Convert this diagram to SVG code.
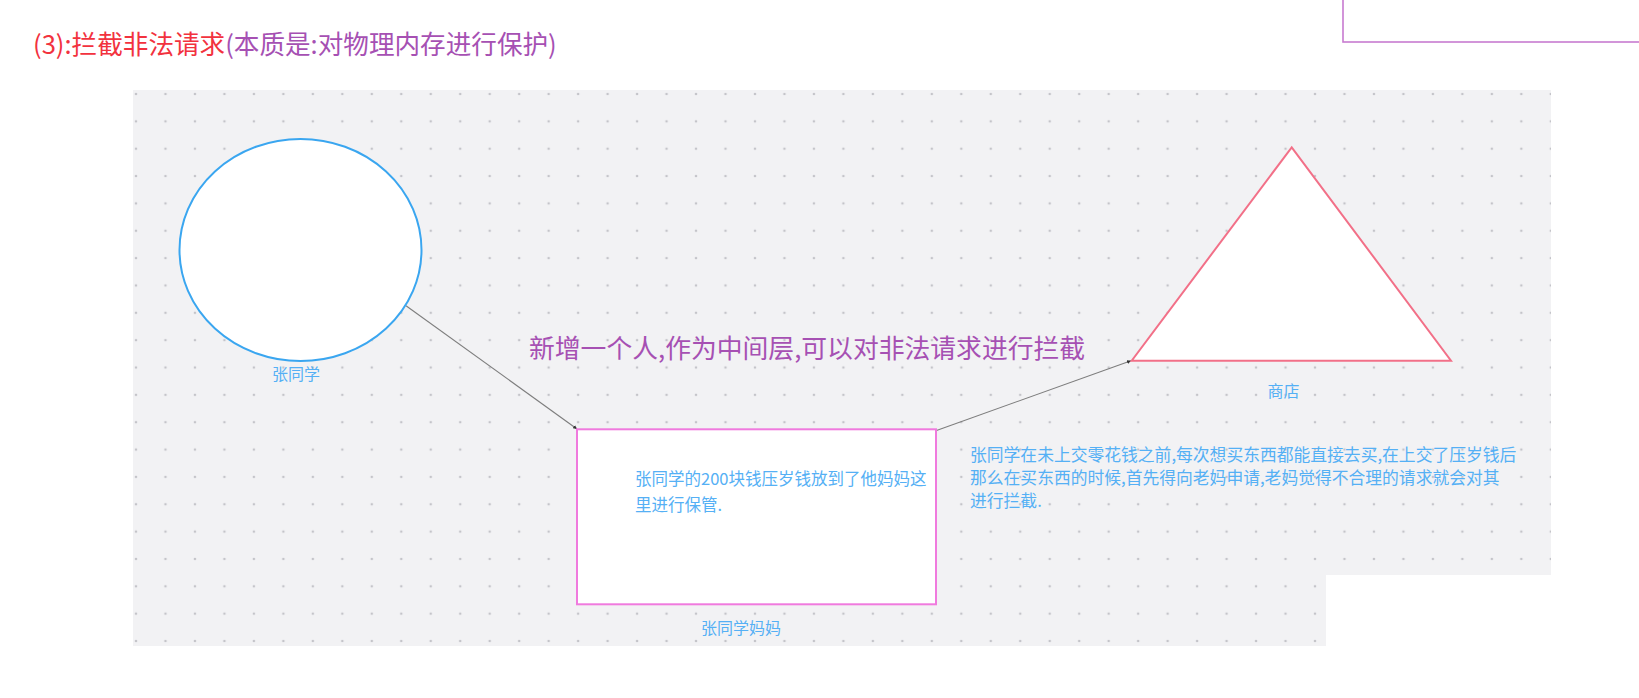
<svg xmlns="http://www.w3.org/2000/svg" width="1639" height="698" viewBox="0 0 1639 698">
  <style>
    text { font-family: "Noto Sans CJK SC", "Noto Sans", sans-serif; }
    .lbl { fill: #55b0f5; font-size: 16px; }
    .note { fill: #55b0f5; font-size: 16.5px; }
    .side { fill: #55b0f5; font-size: 16.8px; }
    .conn { stroke: #7d7d7d; stroke-width: 1.1; fill: none; marker-end: url(#tip); }
  </style>
  <defs>
    <pattern id="dots" patternUnits="userSpaceOnUse" x="121.26" y="80.33" width="29.475" height="27.35">
      <circle cx="14.74" cy="13.675" r="1.3" fill="#c4c4c9"/>
    </pattern>
    <marker id="tip" viewBox="0 0 6 6" refX="6" refY="3" markerWidth="4" markerHeight="4" orient="auto" markerUnits="userSpaceOnUse">
      <path d="M0,0 L6,3 L0,6 z" fill="#333"/>
    </marker>
  </defs>
  <rect width="1639" height="698" fill="#ffffff"/>

  <g id="title">
    <text x="33" y="54" font-size="25.6"><tspan fill="#f2323e">(3):拦截非法请求</tspan><tspan fill="#a650b3">(本质是:对物理内存进行保护)</tspan></text>
  </g>
  <g id="corner-box">
    <rect x="1343" y="-10" width="310" height="52" fill="none" stroke="#c77bd0" stroke-width="1.6"/>
  </g>

  <g id="canvas">
    <path d="M133,90 H1551 V575 H1326 V646 H133 Z" fill="#f2f2f4"/>
    <path d="M133,90 H1551 V575 H1326 V646 H133 Z" fill="url(#dots)"/>
  </g>

  <g id="connectors">
    <line class="conn" x1="406" y1="305.7" x2="577" y2="429"/>
    <line class="conn" x1="936.5" y1="430.5" x2="1131" y2="360.7"/>
  </g>

  <g id="node-zhang">
    <ellipse cx="300.5" cy="250" rx="121" ry="111" fill="#ffffff" stroke="#3aa6f0" stroke-width="2"/>
    <text class="lbl" x="296" y="380" text-anchor="middle">张同学</text>
  </g>

  <g id="node-shop">
    <polygon points="1291.7,147.3 1451,360.7 1131.7,360.7" fill="#ffffff" stroke="#f27088" stroke-width="2" stroke-linejoin="miter"/>
    <text class="lbl" x="1283.5" y="397" text-anchor="middle">商店</text>
  </g>

  <g id="node-mom">
    <rect x="577" y="429.3" width="359" height="175" fill="#ffffff" stroke="#f07ade" stroke-width="2"/>
    <text class="note" x="635" y="485">张同学的200块钱压岁钱放到了他妈妈这</text>
    <text class="note" x="635" y="511">里进行保管.</text>
    <text class="lbl" x="741" y="634" text-anchor="middle">张同学妈妈</text>
  </g>

  <g id="middle-note">
    <text x="529" y="358" font-size="25.8" fill="#a650b3">新增一个人,作为中间层,可以对非法请求进行拦截</text>
  </g>

  <g id="side-note">
    <text class="side" x="970" y="461">张同学在未上交零花钱之前,每次想买东西都能直接去买,在上交了压岁钱后</text>
    <text class="side" x="970" y="484">那么在买东西的时候,首先得向老妈申请,老妈觉得不合理的请求就会对其</text>
    <text class="side" x="970" y="507">进行拦截.</text>
  </g>
</svg>
